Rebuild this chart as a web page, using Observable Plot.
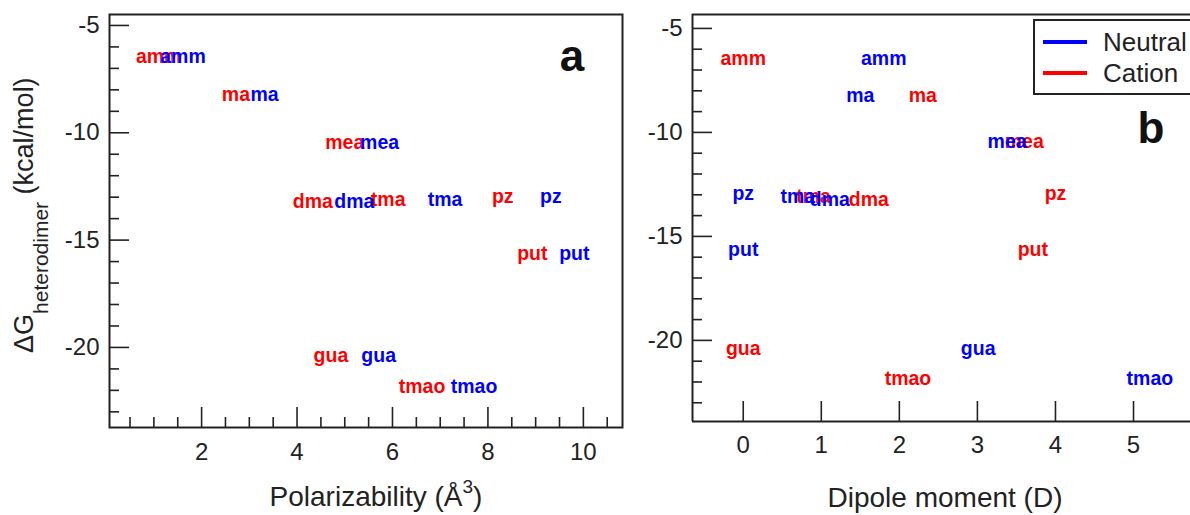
<!DOCTYPE html>
<html>
<head>
<meta charset="utf-8">
<script src="https://cdn.jsdelivr.net/npm/d3@7"></script>
<script src="https://cdn.jsdelivr.net/npm/@observablehq/plot@0.6"></script>
<style>
  html, body { margin: 0; padding: 0; background: #fff; }
  body { width: 1190px; height: 515px; position: relative; overflow: hidden; font-family: "Liberation Sans", Arial, sans-serif; }
  #left { position: absolute; left: 0; top: 0; }
  #right { position: absolute; left: 630px; top: 0; }
  .legend { position: absolute; left: 1033px; top: 19px; width: 200px; height: 72px; border: 2px solid #222; background: #fff; }
  .legend .row { position: absolute; left: 0; height: 30px; width: 200px; }
  .legend .sw { position: absolute; left: 8px; top: 13px; width: 44px; height: 4px; }
  .legend .lab { position: absolute; left: 68px; top: 0; font-size: 26px; line-height: 30px; color: #222; }
</style>
</head>
<body>
<div id="left"></div>
<div id="right"></div>
<div class="legend">
  <div class="row" style="top:6px"><div class="sw" style="background:#0000ff"></div><div class="lab">Neutral</div></div>
  <div class="row" style="top:37px"><div class="sw" style="background:#ff0000"></div><div class="lab">Cation</div></div>
</div>
<script>
// ---- data ----
const molecules = ["amm", "ma", "mea", "dma", "tma", "pz", "put", "gua", "tmao"];
const dGheterodimer = [-6.45, -8.25, -10.45, -13.22, -13.1, -12.97, -15.62, -20.4, -21.85];
const polarizabilityNeutral = [1.61, 3.32, 5.73, 5.20, 7.10, 9.32, 9.81, 5.71, 7.71];
const polarizabilityCation = [1.10, 2.72, 5.00, 4.33, 5.91, 8.31, 8.93, 4.71, 6.62];
const dipoleNeutral = [1.80, 1.50, 3.38, 1.11, 0.70, 0.00, 0.00, 3.01, 5.21];
const dipoleCation = [0.00, 2.30, 3.60, 1.61, 0.90, 4.00, 3.71, 0.00, 2.11];

const yMajorTicks = [-5, -10, -15, -20];
const yMinorTicks = [-6, -7, -8, -9, -11, -12, -13, -14, -16, -17, -18, -19, -21, -22, -23];
const polarMajorTicks = [2, 4, 6, 8, 10];
const polarMinorTicks = [0.5, 1, 1.5, 2.5, 3, 3.5, 4.5, 5, 5.5, 6.5, 7, 7.5, 8.5, 9, 9.5, 10.5];
const dipoleMajorTicks = [0, 1, 2, 3, 4, 5];

const seriesNames = ["Neutral", "Cation"];
const seriesColors = ["#0000ff", "#ff0000"];

const polarDomain = [0.07, 10.82];
const dipoleDomain = [-0.65, 5.73];
const yDomainA = [-23.73, -4.49];
const yDomainB = [-23.9, -4.33];

// ---- tables ----
function table(xs, series) {
  return molecules.map((m, i) => ({name: m, x: xs[i], y: dGheterodimer[i], series}));
}
const dataA = [...table(polarizabilityCation, "Cation"), ...table(polarizabilityNeutral, "Neutral")];
const dataB = [...table(dipoleCation, "Cation"), ...table(dipoleNeutral, "Neutral")];

const ink = "#222";
const fmt = d => String(d);
const blank = () => "";
const font = "'Liberation Sans', Arial, sans-serif";

function axes(yMaj, yMin, xMaj, xMin, xPad) {
  const m = [
    Plot.axisY({ticks: yMaj, tickSize: 20, dx: 20, tickFormat: blank, label: null, stroke: ink, strokeWidth: 1.6}),
    Plot.axisY({ticks: yMin, tickSize: 10, dx: 10, tickFormat: blank, label: null, stroke: ink, strokeWidth: 1.6}),
    Plot.axisY({ticks: yMaj, tickSize: 0, tickPadding: 10, tickFormat: fmt, label: null, fill: ink, fontSize: 24}),
    Plot.axisX({ticks: xMaj, tickSize: 20, dy: -20, tickFormat: blank, label: null, stroke: ink, strokeWidth: 1.6}),
    Plot.axisX({ticks: xMaj, tickSize: 0, tickPadding: xPad, tickFormat: fmt, label: null, fill: ink, fontSize: 24})
  ];
  if (xMin) m.push(Plot.axisX({ticks: xMin, tickSize: 10, dy: -10, tickFormat: blank, label: null, stroke: ink, strokeWidth: 1.6}));
  return m;
}

const colorScale = {domain: seriesNames, range: seriesColors};

const plotA = Plot.plot({
  width: 630, height: 515,
  marginLeft: 109, marginRight: 8, marginTop: 14, marginBottom: 88,
  style: {fontFamily: font, fontSize: "24px", background: "transparent"},
  x: {domain: polarDomain},
  y: {domain: yDomainA},
  color: colorScale,
  marks: [
    ...axes(yMajorTicks, yMinorTicks, polarMajorTicks, polarMinorTicks, 15),
    Plot.frame({stroke: ink, strokeWidth: 2}),
    Plot.text(dataA, {x: "x", y: "y", text: "name", fill: "series", fontWeight: "bold", fontSize: 19.5})
  ]
});
document.getElementById("left").appendChild(plotA);

const plotB = Plot.plot({
  width: 560, height: 515,
  marginLeft: 62, marginRight: 0, marginTop: 14, marginBottom: 94,
  style: {fontFamily: font, fontSize: "24px", background: "transparent", overflow: "visible"},
  x: {domain: dipoleDomain},
  y: {domain: yDomainB},
  color: colorScale,
  marks: [
    ...axes(yMajorTicks, yMinorTicks, dipoleMajorTicks, null, 14),
    Plot.ruleX([dipoleDomain[0]], {stroke: ink, strokeWidth: 2}),
    Plot.ruleY([yDomainB[0], yDomainB[1]], {stroke: ink, strokeWidth: 2}),
    Plot.text(dataB, {x: "x", y: "y", text: "name", fill: "series", fontWeight: "bold", fontSize: 19.5})
  ]
});
document.getElementById("right").appendChild(plotB);

// ---- titles ----
const sA = d3.select(plotA);
const yt = sA.append("text")
  .attr("transform", "translate(33,353) rotate(-90)")
  .attr("text-anchor", "start")
  .attr("fill", ink)
  .style("font-family", font)
  .style("font-size", "27px");
yt.append("tspan").text("ΔG");
yt.append("tspan").attr("dy", 15).style("font-size", "21px").text("heterodimer");
yt.append("tspan").attr("dy", -15).text(" (kcal/mol)");

const xtA = sA.append("text")
  .attr("x", 376).attr("y", 506)
  .attr("text-anchor", "middle").attr("fill", ink)
  .style("font-family", font)
  .style("font-size", "28px");
xtA.append("tspan").text("Polarizability (Å");
xtA.append("tspan").attr("dy", -13).style("font-size", "19px").text("3");
xtA.append("tspan").attr("dy", 13).text(")");

sA.append("text").attr("x", 572).attr("y", 71)
  .attr("text-anchor", "middle").attr("fill", "#111")
  .style("font-family", font)
  .style("font-size", "44px").style("font-weight", "bold").text("a");

const sB = d3.select(plotB);
sB.append("text").attr("x", 315).attr("y", 507)
  .attr("text-anchor", "middle").attr("fill", ink)
  .style("font-family", font)
  .style("font-size", "28px").text("Dipole moment (D)");
sB.append("text").attr("x", 521).attr("y", 143)
  .attr("text-anchor", "middle").attr("fill", "#111")
  .style("font-family", font)
  .style("font-size", "44px").style("font-weight", "bold").text("b");
</script>
</body>
</html>
